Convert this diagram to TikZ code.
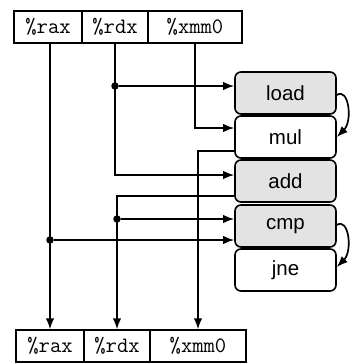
\documentclass[tikz,border=0pt]{standalone}
\usepackage{fontspec}
\newfontfamily\opfont{Liberation Sans}
\usetikzlibrary{arrows.meta}
\begin{document}
\begin{tikzpicture}[x=1pt,y=-1pt,
  reg/.style={draw,line width=1.4pt,minimum height=32pt,inner sep=0pt,
    font=\fontsize{22}{22}\selectfont\ttfamily},
  op/.style={draw,line width=1.6pt,rounded corners=6pt,minimum width=101pt,
    minimum height=42pt,inner sep=0pt,font=\fontsize{20.5}{20.5}\opfont},
  busy/.style={op,fill=black!11},
  wire/.style={line width=1.7pt},
  flow/.style={wire,-{Latex[length=11pt,width=8.5pt]}},
  tap/.style={circle,fill,inner sep=0pt,minimum size=7.5pt}]
\useasboundingbox (0,0) rectangle (350,364);

% register file before the loop body
\node[reg,minimum width=68pt] (trax) at (48,27)  {\%rax};
\node[reg,minimum width=66pt] (trdx) at (115,27) {\%rdx};
\node[reg,minimum width=94pt] (txmm) at (195,27) {\%xmm0};

% register file after the loop body
\node[reg,minimum width=68pt] (brax) at (50,346)  {\%rax};
\node[reg,minimum width=66pt] (brdx) at (117,346) {\%rdx};
\node[reg,minimum width=96pt] (bxmm) at (198,346) {\%xmm0};

% operations
\node[busy] (load) at (285.5,93)  {load};
\node[op]   (mul)  at (285.5,137) {mul};
\node[busy] (add)  at (285.5,181) {add};
\node[busy] (cmp)  at (285.5,226) {cmp};
\node[op]   (jne)  at (285.5,270) {jne};

% %rax
\draw[flow] (trax.south -| brax.north) -- (brax.north);
\node[tap] (raxtap) at (50,240) {};
\draw[flow] (raxtap) -- (raxtap -| cmp.west);

% %rdx
\coordinate (rdxturn) at (115,175);
\draw[flow] (trdx.south) -- (rdxturn) -- (rdxturn -| add.west);
\node[tap] (rdxtap) at (115,86) {};
\draw[flow] (rdxtap) -- (rdxtap -| load.west);

% %xmm0
\coordinate (xturn) at (195,128);
\draw[flow] (txmm.south) -- (xturn) -- (xturn -| mul.west);

% mul result
\coordinate (mulout) at (198,151);
\draw[flow] (mulout -| mul.west) -- (mulout) -- (bxmm.north);

% add result
\coordinate (addout) at (117,196);
\draw[flow] (addout -| add.west) -- (addout) -- (brdx.north);
\node[tap] (addtap) at (117,219) {};
\draw[flow] (addtap) -- (addtap -| cmp.west);

% load -> mul, cmp -> jne
\draw[flow] ([yshift=-2pt]load.east) .. controls +(12,-8) and +(16,-16) .. (mul.east);
\draw[flow] ([yshift=1pt]cmp.east) .. controls +(12,-8) and +(16,-16) .. ([yshift=3pt]jne.east);
\end{tikzpicture}
\end{document}
